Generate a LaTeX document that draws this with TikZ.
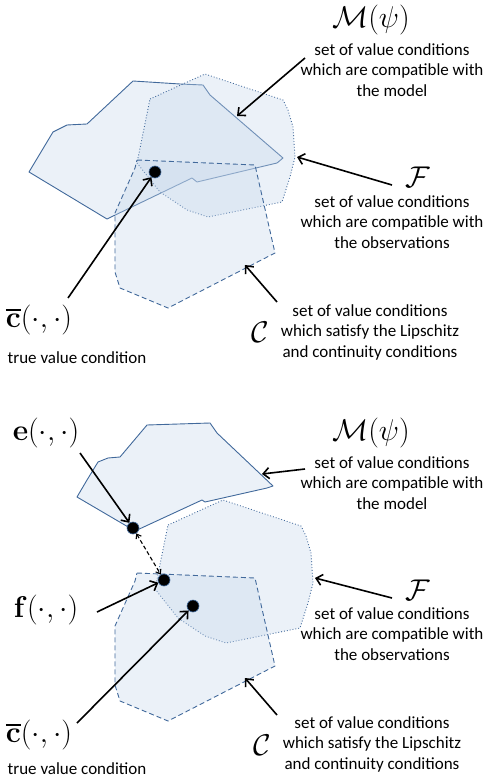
\RequirePackage{fix-cm}
\documentclass[tikz,border=0pt]{standalone}
\usepackage{amsmath,amssymb}
\usepackage[no-math]{fontspec}
\setmainfont{Carlito}
\usetikzlibrary{arrows.meta}

\definecolor{regfill}{RGB}{198,215,235}
\definecolor{regedge}{RGB}{65,105,155}

\tikzset{
  region/.style={fill=regfill, fill opacity=0.35, draw=regedge, line width=0.9pt, line join=round},
  dot/.style={circle, fill=black, draw=regedge, line width=0.6pt, inner sep=0pt, minimum size=12pt},
  pointer/.style={-{Straight Barb[length=6pt,width=11pt]}, line width=1.6pt},
  note/.style={align=center, font=\fontsize{17}{20.5}\selectfont, inner sep=0pt},
  bigsym/.style={font=\fontsize{30}{32}\selectfont, inner sep=0pt},
}

\begin{document}
\begin{tikzpicture}[x=1pt, y=-1pt]
\useasboundingbox (0,0) rectangle (485,783);

% upper picture
\draw[region] (29,172) -- (53,132) -- (67,125) -- (87,124) -- (133,81) -- (180,84) -- (203,85)
  -- (210,95) -- (283,158) -- (277,163) -- (197,182) -- (192,178) -- (107,219) -- cycle;
\draw[region, dotted] (150,99) -- (205,74) -- (283,100) -- (288,110) -- (293,127) -- (295,157)
  -- (290,177) -- (282,202) -- (208,217) -- (187,210) -- (160,192) -- (137,163) -- cycle;
\draw[region, dash pattern=on 5pt off 3pt] (137,160) -- (255,165) -- (275,253) -- (168,308)
  -- (120,288) -- (115,272) -- (115,213) -- (135,168) -- cycle;

\node[dot] (c1) at (155,172) {};

\node[bigsym] (M1) at (371,20) {$\mathcal{M}(\psi)$};
\node[note] (M1txt) at (392,70) {set of value conditions\\which are compatible with\\the model};
\node[bigsym] (F1) at (418,177) {$\mathcal{F}$};
\node[note] (F1txt) at (392,222) {set of value conditions\\which are compatible with\\the observations};
\node[bigsym] (C1) at (260,332) {$\mathcal{C}$};
\node[note] (C1txt) at (370,332) {set of value conditions\\which satisfy the Lipschitz\\and continuity conditions};
\node[bigsym] (cb1) at (39,320) {$\overline{\mathbf{c}}(\cdot,\cdot)$};
\node[note] (true1) at (77,358) {true value condition};

\coordinate (M1from) at (305,58);
\coordinate (M1to) at (237,116);
\coordinate (F1from) at (392,185);
\coordinate (F1to) at (297,157);
\coordinate (C1from) at (277,302);
\coordinate (C1to) at (245,265);
\coordinate (cb1from) at (68,298);

\draw[pointer] (M1from) -- (M1to);
\draw[pointer] (F1from) -- (F1to);
\draw[pointer] (C1from) -- (C1to);
\draw[pointer] (cb1from) -- (c1);

% lower picture
\draw[region] (77,497) -- (87,480) -- (98,462) -- (108,458) -- (120,457) -- (147,425) -- (210,423)
  -- (217,433) -- (273,486) -- (267,488) -- (205,502) -- (202,500) -- (135,531) -- cycle;
\draw[region, dotted, shift={(18,426)}] (150,99) -- (205,74) -- (283,100) -- (288,110) -- (293,127)
  -- (295,157) -- (290,177) -- (282,202) -- (208,217) -- (187,210) -- (160,192) -- (137,163) -- cycle;
\draw[region, dash pattern=on 5pt off 3pt, shift={(0,413)}] (137,160) -- (255,165) -- (275,253)
  -- (168,308) -- (120,288) -- (115,272) -- (115,213) -- (135,168) -- cycle;

\node[dot] (e) at (133,528) {};
\node[dot] (f) at (164,580) {};
\node[dot] (c2) at (193,606) {};

\node[bigsym] (M2) at (371,433) {$\mathcal{M}(\psi)$};
\node[note] (M2txt) at (392,483) {set of value conditions\\which are compatible with\\the model};
\node[bigsym] (F2) at (418,590) {$\mathcal{F}$};
\node[note] (F2txt) at (392,634) {set of value conditions\\which are compatible with\\the observations};
\node[bigsym] (C2) at (262,745) {$\mathcal{C}$};
\node[note] (C2txt) at (372,744) {set of value conditions\\which satisfy the Lipschitz\\and continuity conditions};
\node[bigsym] (elab) at (46,433) {$\mathbf{e}(\cdot,\cdot)$};
\node[bigsym] (flab) at (46,610) {$\mathbf{f}(\cdot,\cdot)$};
\node[bigsym] (cb2) at (39,735) {$\overline{\mathbf{c}}(\cdot,\cdot)$};
\node[note] (true2) at (77,769) {true value condition};

\coordinate (M2from) at (305,469);
\coordinate (M2to) at (262,474);
\coordinate (F2from) at (392,598);
\coordinate (F2to) at (315,578);
\coordinate (C2from) at (277,715);
\coordinate (C2to) at (245,678);
\coordinate (efrom) at (80,453);
\coordinate (ffrom) at (97,612);
\coordinate (cb2from) at (77,723);

\draw[pointer] (M2from) -- (M2to);
\draw[pointer] (F2from) -- (F2to);
\draw[pointer] (C2from) -- (C2to);
\draw[pointer] (efrom) -- (e);
\draw[pointer] (ffrom) -- (f);
\draw[pointer] (cb2from) -- (c2);
\draw[{Straight Barb[length=4pt,width=6pt]}-{Straight Barb[length=4pt,width=6pt]}, line width=1.1pt, dash pattern=on 4pt off 2.5pt] (e) -- (f);
\end{tikzpicture}
\end{document}
